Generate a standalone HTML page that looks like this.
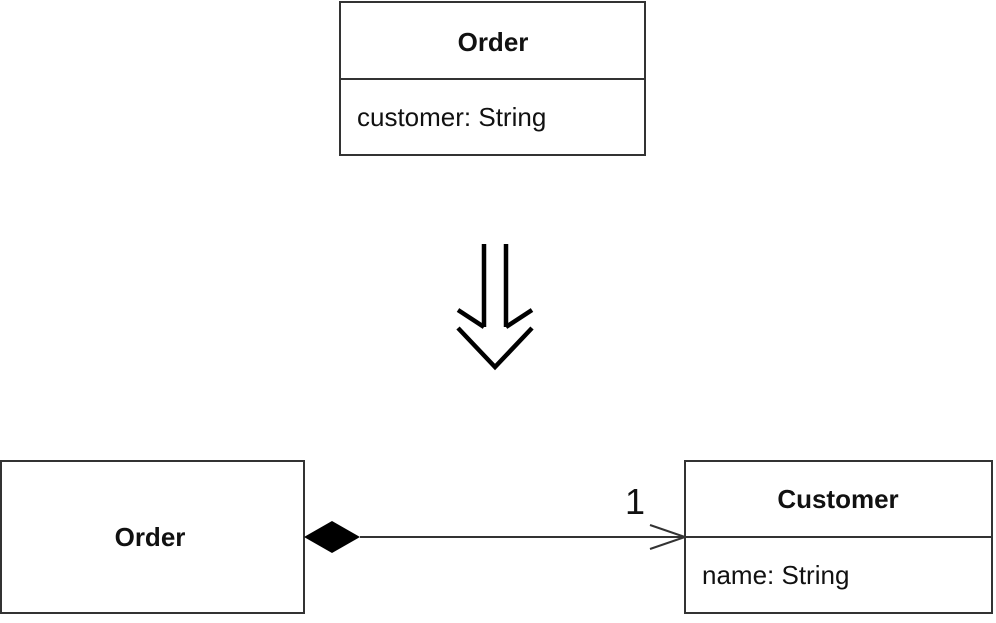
<!DOCTYPE html>
<html><head><style>body{margin:0;background:#fff}</style></head><body>
<svg width="996" height="618" xmlns="http://www.w3.org/2000/svg" font-family="Liberation Sans, sans-serif">
<g fill="none" stroke="#333" stroke-width="2">
<rect x="340" y="2" width="305" height="153"/>
<line x1="340" y1="79" x2="645" y2="79"/>
<rect x="1" y="461" width="303" height="152"/>
<rect x="685" y="461" width="307" height="152"/>
<line x1="685" y1="537" x2="992" y2="537"/>
<line x1="360" y1="537" x2="685" y2="537"/>
<polyline points="650,525 685,537 650,549"/>
</g>
<polygon points="304,537 332,521 360,537 332,553" fill="#000"/>
<g fill="none" stroke="#000" stroke-width="4.5">
<line x1="484" y1="244" x2="484" y2="327"/>
<line x1="506" y1="244" x2="506" y2="327"/>
<polyline points="458,310 484,327"/>
<polyline points="532,310 506,327"/>
<polyline points="458,328 495,367 532,328"/>
</g>
<g fill="#111">
<text x="493" y="51" font-size="26" font-weight="bold" text-anchor="middle" transform="scale(1,1)">Order</text>
<text x="357" y="126" font-size="26">customer: String</text>
<text x="150" y="546" font-size="26" font-weight="bold" text-anchor="middle">Order</text>
<text x="838" y="508" font-size="26" font-weight="bold" text-anchor="middle">Customer</text>
<text x="702" y="584" font-size="26">name: String</text>
<text x="635" y="514" font-size="36" text-anchor="middle">1</text>
</g>
</svg>
</body></html>
